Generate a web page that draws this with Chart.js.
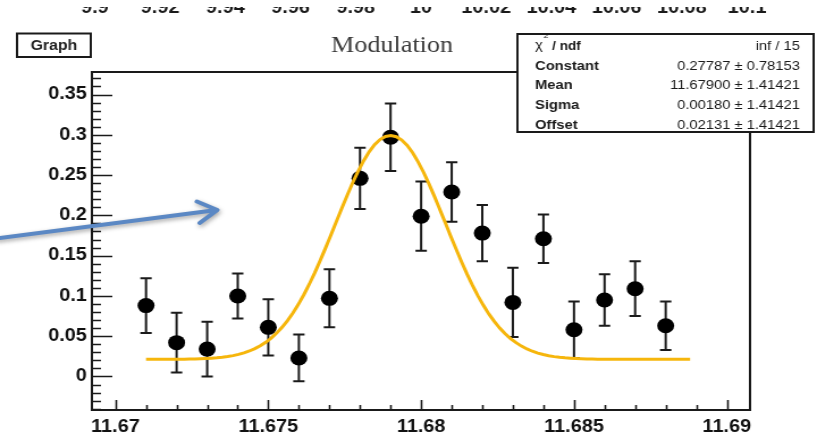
<!DOCTYPE html>
<html>
<head>
<meta charset="utf-8">
<script src="https://cdn.jsdelivr.net/npm/chart.js@4"></script>
<style>
  html, body { margin: 0; padding: 0; background: #fff; }
</style>
</head>
<body>
<!-- drawn 720 wide and shown 817 wide, so the whole plot is a little stretched sideways -->
<canvas id="modulation" width="720" height="435" style="width:817px;height:435px"></canvas>
<script>
// measured points (TGraphErrors), symmetric errors in y
const xs   = [11.671, 11.672, 11.673, 11.674, 11.675, 11.676, 11.677, 11.678, 11.679,
              11.680, 11.681, 11.682, 11.683, 11.684, 11.685, 11.686, 11.687, 11.688]
const ys   = [0.088, 0.042, 0.034, 0.100, 0.061, 0.023, 0.097, 0.246, 0.297,
              0.199, 0.229, 0.178, 0.092, 0.171, 0.058, 0.095, 0.109, 0.063]
const errs = [0.034, 0.037, 0.034, 0.028, 0.035, 0.029, 0.036, 0.038, 0.042,
              0.043, 0.037, 0.035, 0.043, 0.030, 0.035, 0.032, 0.034, 0.030]

// gaussian + offset fit, parameters as printed in the stats box
const fitConstant = 0.27787
const fitMean = 11.67900
const fitSigma = 0.00180
const fitOffset = 0.02131
const fitFrom = 11.671
const fitTo = 11.6888
const fitSamples = 100

const statNames  = ['Constant', 'Mean', 'Sigma', 'Offset']
const statValues = ['0.27787 \u00b1 0.78153', '11.67900 \u00b1 1.41421', '0.00180 \u00b1 1.41421', '0.02131 \u00b1 1.41421']
const chi2ndf = 'inf / 15'

const xTickValues = [11.67, 11.675, 11.68, 11.685, 11.69]
const xTickLabels = ['11.67', '11.675', '11.68', '11.685', '11.69']
const yTickValues = [0, 0.05, 0.1, 0.15, 0.2, 0.25, 0.3, 0.35]
const yTickLabels = ['0', '0.05', '0.1', '0.15', '0.2', '0.25', '0.3', '0.35']
// axis of the plot above, only its labels show at the top edge
const topAxisLabels = ['9.9', '9.92', '9.94', '9.96', '9.98', '10', '10.02', '10.04', '10.06', '10.08', '10.1']

const fitColor = '#f6b60c'
const inkColor = '#111'

const graphPoints = xs.map((x, i) => ({ x: x, y: ys[i] }))
const fitPoints = []
for (let k = 0; k <= fitSamples; k++) {
  const x = fitFrom + (fitTo - fitFrom) * k / fitSamples
  const u = (x - fitMean) / fitSigma
  fitPoints.push({ x: x, y: fitOffset + fitConstant * Math.exp(-0.5 * u * u) })
}

function labelFor(values, labels) {
  return function (v) {
    for (let i = 0; i < values.length; i++) {
      if (Math.abs(v - values[i]) < 1e-7) return labels[i]
    }
    return ''
  }
}

// labels may hang over the frame ends, don't let them shrink the plot
function noSidePadding(s) {
  s.paddingLeft = 0
  s.paddingRight = 0
}

function drawArrow(ctx) {
  ctx.save()
  ctx.strokeStyle = '#5b88c4'
  ctx.lineWidth = 4
  ctx.lineCap = 'round'
  ctx.lineJoin = 'round'
  ctx.shadowColor = 'rgba(0,0,0,0.35)'
  ctx.shadowBlur = 4
  ctx.shadowOffsetX = 1
  ctx.shadowOffsetY = 2
  ctx.beginPath()
  ctx.moveTo(-4, 238.5)
  ctx.lineTo(191, 210)
  ctx.moveTo(173.5, 201.5)
  ctx.lineTo(191.5, 210)
  ctx.lineTo(176, 223)
  ctx.stroke()
  ctx.restore()
}

const rootLook = {
  id: 'rootLook',
  beforeDraw(chart) {
    const ctx = chart.ctx
    ctx.save()
    ctx.fillStyle = '#fff'
    ctx.fillRect(0, 0, chart.width, chart.height)
    ctx.restore()
  },
  beforeDatasetsDraw(chart) {
    // error bars with small end caps
    const ctx = chart.ctx
    const sx = chart.scales.x, sy = chart.scales.y
    ctx.save()
    ctx.strokeStyle = '#1a1a1a'
    ctx.lineWidth = 2
    xs.forEach((x, i) => {
      const px = sx.getPixelForValue(x)
      const top = sy.getPixelForValue(ys[i] + errs[i])
      const bot = sy.getPixelForValue(ys[i] - errs[i])
      ctx.beginPath()
      ctx.moveTo(px, top); ctx.lineTo(px, bot)
      ctx.moveTo(px - 5, top); ctx.lineTo(px + 5, top)
      ctx.moveTo(px - 5, bot); ctx.lineTo(px + 5, bot)
      ctx.stroke()
    })
    ctx.restore()
  },
  afterDatasetsDraw(chart) {
    // frame and inward tick marks
    const ctx = chart.ctx
    const a = chart.chartArea
    const sx = chart.scales.x, sy = chart.scales.y
    ctx.save()
    ctx.strokeStyle = '#1a1a1a'
    ctx.lineWidth = 2
    ctx.strokeRect(a.left, a.top, a.right - a.left, a.bottom - a.top)
    ctx.lineWidth = 1.6
    ctx.beginPath()
    sy.ticks.forEach(t => {
      const py = Math.round(sy.getPixelForValue(t.value)) + 0.5
      const len = t.label ? 18 : 8
      ctx.moveTo(a.left, py); ctx.lineTo(a.left + len, py)
    })
    sx.ticks.forEach(t => {
      const px = Math.round(sx.getPixelForValue(t.value)) + 0.5
      const len = t.label ? 10 : 5
      ctx.moveTo(px, a.bottom); ctx.lineTo(px, a.bottom - len)
    })
    ctx.stroke()
    ctx.restore()
  },
  afterDraw(chart) {
    const ctx = chart.ctx
    ctx.save()
    // the labels of the upper plot are cut at the image edge
    ctx.fillStyle = '#fff'
    ctx.fillRect(0, 0, chart.width, 7)

    // "Graph" name box
    ctx.strokeStyle = '#1a1a1a'
    ctx.lineWidth = 2
    ctx.strokeRect(15, 33.5, 65, 23.5)
    ctx.fillStyle = '#222'
    ctx.font = 'bold 14px "Liberation Sans"'
    ctx.textAlign = 'center'
    ctx.textBaseline = 'middle'
    ctx.fillText('Graph', 47.5, 46)

    // title
    ctx.fillStyle = '#3c3c3c'
    ctx.font = '23px "Liberation Serif"'
    ctx.fillText('Modulation', 345.5, 46)

    // stats box
    ctx.fillStyle = '#fff'
    ctx.fillRect(456, 34, 261, 98)
    ctx.strokeStyle = '#1a1a1a'
    ctx.lineWidth = 2
    ctx.strokeRect(456, 34, 261, 98)

    ctx.fillStyle = '#1a1a1a'
    ctx.textAlign = 'left'
    ctx.textBaseline = 'alphabetic'
    ctx.font = '13px "Liberation Sans"'
    ctx.fillText('\u03c7', 471.5, 49)
    ctx.font = '8px "Liberation Sans"'
    ctx.fillText('2', 479, 38)
    ctx.font = 'bold 12px "Liberation Sans"'
    ctx.fillText('/ ndf', 486.5, 50)

    ctx.textBaseline = 'middle'
    ctx.font = 'bold 13px "Liberation Sans"'
    statNames.forEach((n, i) => ctx.fillText(n, 471.5, 66 + i * 19.8))
    ctx.textAlign = 'right'
    ctx.font = '13px "Liberation Sans"'
    ctx.fillText(chi2ndf, 705, 46)
    statValues.forEach((v, i) => ctx.fillText(v, 705, 66 + i * 19.8))
    ctx.restore()

    drawArrow(ctx)
  }
}

const tickFont = { family: 'Liberation Sans', size: 17.5, weight: 'bold' }

new Chart(document.getElementById('modulation'), {
  type: 'scatter',
  data: {
    datasets: [
      {
        type: 'line',
        label: 'fit',
        data: fitPoints,
        borderColor: fitColor,
        borderWidth: 3,
        pointRadius: 0,
        tension: 0,
        fill: false,
        order: 0
      },
      {
        type: 'scatter',
        label: 'Graph',
        data: graphPoints,
        pointRadius: 7.5,
        pointHoverRadius: 7.5,
        pointBackgroundColor: '#000',
        pointBorderWidth: 0,
        order: 1
      }
    ]
  },
  options: {
    responsive: false,
    animation: false,
    devicePixelRatio: 1,
    layout: { padding: { left: 0, right: 59, top: 0, bottom: 0 } },
    plugins: {
      legend: { display: false },
      tooltip: { enabled: false },
      title: { display: false }
    },
    scales: {
      x: {
        type: 'linear',
        position: 'bottom',
        min: 11.66923,
        max: 11.69076,
        grid: { display: false, drawTicks: false },
        border: { display: false },
        ticks: {
          stepSize: 0.001,
          autoSkip: false,
          includeBounds: false,
          maxRotation: 0,
          padding: 7,
          color: inkColor,
          font: tickFont,
          callback: labelFor(xTickValues, xTickLabels)
        },
        afterFit(s) { s.height = 25; noSidePadding(s) }
      },
      xTop: {
        type: 'linear',
        axis: 'x',
        position: 'top',
        min: 9.89907,
        max: 10.10093,
        grid: { display: false, drawTicks: false },
        border: { display: false },
        ticks: {
          stepSize: 0.02,
          autoSkip: false,
          includeBounds: false,
          maxRotation: 0,
          padding: 53,
          color: '#1a1a1a',
          font: tickFont,
          callback: (v, i) => topAxisLabels[i]
        },
        afterFit(s) { s.height = 72; noSidePadding(s) }
      },
      y: {
        type: 'linear',
        min: -0.0416,
        max: 0.378,
        grid: { display: false, drawTicks: false },
        border: { display: false },
        ticks: {
          stepSize: 0.01,
          autoSkip: false,
          includeBounds: false,
          padding: 4.5,
          color: inkColor,
          font: tickFont,
          callback: labelFor(yTickValues, yTickLabels)
        },
        afterFit(s) { s.width = 81; s.paddingTop = 0; s.paddingBottom = 0 }
      }
    }
  },
  plugins: [rootLook]
})
</script>
</body>
</html>
